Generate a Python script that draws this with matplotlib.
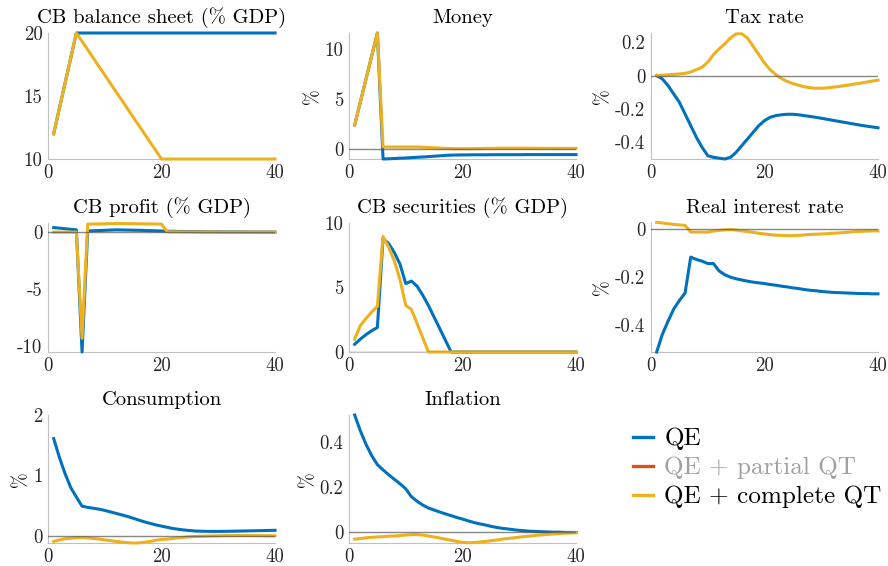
import matplotlib
matplotlib.use("Agg")
from matplotlib import pyplot as plt
from matplotlib.lines import Line2D
from matplotlib.ticker import FuncFormatter

plt.rcParams['font.family'] = ['cmr10', 'DejaVu Serif']
plt.rcParams['axes.unicode_minus'] = False

blue = '#0072BD'
orange = '#D95319'
yellow = '#EDB120'

quarters = list(range(1, 41))

# CB balance sheet (% GDP)
bs_qe = [12, 14, 16, 18, 20, 20, 20, 20, 20, 20,
         20, 20, 20, 20, 20, 20, 20, 20, 20, 20,
         20, 20, 20, 20, 20, 20, 20, 20, 20, 20,
         20, 20, 20, 20, 20, 20, 20, 20, 20, 20]
bs_qt = [12, 14, 16, 18, 20, 19.33, 18.67, 18, 17.33, 16.67,
         16, 15.33, 14.67, 14, 13.33, 12.67, 12, 11.33, 10.67, 10,
         10, 10, 10, 10, 10, 10, 10, 10, 10, 10,
         10, 10, 10, 10, 10, 10, 10, 10, 10, 10]

# Money
money_qe = [2.4, 4.7, 7.0, 9.3, 11.6, -1.0, -0.98, -0.95, -0.92, -0.9,
            -0.86, -0.83, -0.8, -0.76, -0.72, -0.68, -0.64, -0.61, -0.6, -0.59,
            -0.59, -0.58, -0.58, -0.58, -0.57, -0.57, -0.57, -0.57, -0.57, -0.57,
            -0.56, -0.56, -0.56, -0.56, -0.56, -0.56, -0.56, -0.56, -0.56, -0.56]
money_qt = [2.4, 4.7, 7.0, 9.3, 11.6, 0.2, 0.2, 0.2, 0.2, 0.2,
            0.2, 0.2, 0.18, 0.15, 0.12, 0.09, 0.06, 0.04, 0.03, 0.03,
            0.03, 0.04, 0.05, 0.06, 0.07, 0.07, 0.08, 0.08, 0.08, 0.08,
            0.08, 0.08, 0.07, 0.07, 0.07, 0.06, 0.06, 0.06, 0.06, 0.06]

# Tax rate
tax_qe = [0, -0.02, -0.06, -0.11, -0.16, -0.23, -0.30, -0.37, -0.43, -0.48,
          -0.49, -0.495, -0.50, -0.49, -0.46, -0.42, -0.38, -0.34, -0.30, -0.27,
          -0.25, -0.24, -0.235, -0.232, -0.232, -0.235, -0.24, -0.245, -0.25, -0.256,
          -0.262, -0.268, -0.274, -0.28, -0.286, -0.292, -0.298, -0.303, -0.308, -0.313]
tax_qt = [0, 0.002, 0.004, 0.007, 0.01, 0.013, 0.022, 0.035, 0.05, 0.08,
          0.125, 0.16, 0.19, 0.225, 0.25, 0.25, 0.225, 0.175, 0.125, 0.075,
          0.035, 0.005, -0.018, -0.035, -0.048, -0.058, -0.067, -0.073, -0.076, -0.076,
          -0.074, -0.07, -0.066, -0.061, -0.056, -0.05, -0.045, -0.039, -0.033, -0.028]

# CB profit (% GDP)
profit_qe = [0.4, 0.35, 0.3, 0.25, 0.2, -10.5, 0.1, 0.12, 0.14, 0.16,
             0.18, 0.2, 0.19, 0.18, 0.17, 0.16, 0.15, 0.13, 0.12, 0.1,
             0.08, 0.07, 0.06, 0.05, 0.05, 0.04, 0.04, 0.03, 0.03, 0.03,
             0.02, 0.02, 0.02, 0.02, 0.01, 0.01, 0.01, 0.01, 0.01, 0.0]
profit_qt = [0, 0, 0, 0, 0, -9.3, 0.7, 0.71, 0.72, 0.73,
             0.74, 0.75, 0.75, 0.74, 0.74, 0.73, 0.72, 0.72, 0.71, 0.7,
             0.03, 0.02, 0.02, 0.01, 0.01, 0.01, 0.01, 0.01, 0.01, 0.0,
             0, 0, 0, 0, 0, 0, 0, 0, 0, 0]

# CB securities (% GDP)
sec_qe = [0.6, 1.0, 1.35, 1.65, 1.9, 8.8, 8.4, 7.7, 6.8, 5.3,
          5.5, 5.1, 4.4, 3.6, 2.7, 1.8, 0.9, 0, 0, 0,
          0, 0, 0, 0, 0, 0, 0, 0, 0, 0,
          0, 0, 0, 0, 0, 0, 0, 0, 0, 0]
sec_qt = [1.0, 2.05, 2.6, 3.1, 3.55, 8.95, 8.1, 7.05, 5.6, 3.6,
          3.3, 2.2, 1.1, 0, 0, 0, 0, 0, 0, 0,
          0, 0, 0, 0, 0, 0, 0, 0, 0, 0,
          0, 0, 0, 0, 0, 0, 0, 0, 0, 0]

# Real interest rate
rate_qe = [-0.514, -0.44, -0.385, -0.334, -0.298, -0.267, -0.116, -0.126, -0.133, -0.143,
           -0.143, -0.174, -0.19, -0.2, -0.207, -0.212, -0.217, -0.221, -0.224, -0.227,
           -0.231, -0.234, -0.238, -0.241, -0.245, -0.248, -0.252, -0.255, -0.257, -0.26,
           -0.262, -0.264, -0.265, -0.266, -0.267, -0.268, -0.269, -0.269, -0.27, -0.27]
rate_qt = [0.03, 0.027, 0.024, 0.021, 0.019, 0.017, -0.011, -0.011, -0.011, -0.011,
           -0.007, -0.004, -0.002, -0.001, -0.003, -0.006, -0.009, -0.012, -0.016, -0.019,
           -0.022, -0.024, -0.025, -0.026, -0.026, -0.025, -0.023, -0.021, -0.02, -0.019,
           -0.018, -0.016, -0.015, -0.013, -0.011, -0.009, -0.008, -0.007, -0.006, -0.006]

# Consumption
cons_qe = [1.61, 1.3, 1.03, 0.8, 0.64, 0.49, 0.47, 0.455, 0.44, 0.42,
           0.395, 0.37, 0.345, 0.32, 0.29, 0.26, 0.23, 0.205, 0.18, 0.16,
           0.14, 0.12, 0.107, 0.095, 0.086, 0.078, 0.075, 0.073, 0.072, 0.072,
           0.073, 0.074, 0.076, 0.078, 0.08, 0.082, 0.084, 0.086, 0.088, 0.09]
cons_qt = [-0.094, -0.07, -0.05, -0.04, -0.032, -0.028, -0.035, -0.045, -0.055, -0.068,
           -0.081, -0.094, -0.105, -0.114, -0.12, -0.118, -0.108, -0.094, -0.075, -0.062,
           -0.055, -0.045, -0.035, -0.025, -0.017, -0.012, -0.008, -0.004, -0.002, 0.0,
           0.002, 0.003, 0.004, 0.005, 0.005, 0.004, 0.003, 0.002, 0.001, 0.0]

# Inflation
infl_qe = [0.52, 0.45, 0.39, 0.34, 0.30, 0.277, 0.255, 0.235, 0.215, 0.193,
           0.158, 0.138, 0.121, 0.108, 0.099, 0.09, 0.082, 0.074, 0.066, 0.059,
           0.051, 0.044, 0.038, 0.033, 0.027, 0.022, 0.018, 0.015, 0.012, 0.009,
           0.007, 0.005, 0.004, 0.003, 0.002, 0.001, 0.001, 0.0, 0.0, 0.0]
infl_qt = [-0.03, -0.027, -0.024, -0.022, -0.02, -0.019, -0.017, -0.016, -0.014, -0.012,
           -0.01, -0.01, -0.012, -0.016, -0.02, -0.025, -0.03, -0.035, -0.04, -0.044,
           -0.046, -0.045, -0.043, -0.04, -0.037, -0.034, -0.03, -0.027, -0.024, -0.021,
           -0.018, -0.016, -0.013, -0.011, -0.009, -0.007, -0.005, -0.004, -0.003, -0.002]

titles = ['CB balance sheet (% GDP)', 'Money', 'Tax rate',
          'CB profit (% GDP)', 'CB securities (% GDP)', 'Real interest rate',
          'Consumption', 'Inflation']
series = [(bs_qe, bs_qt), (money_qe, money_qt), (tax_qe, tax_qt),
          (profit_qe, profit_qt), (sec_qe, sec_qt), (rate_qe, rate_qt),
          (cons_qe, cons_qt), (infl_qe, infl_qt)]
yticks = [[10, 15, 20], [0, 5, 10], [-0.4, -0.2, 0, 0.2],
          [-10, -5, 0], [0, 5, 10], [-0.4, -0.2, 0],
          [0, 1, 2], [0, 0.2, 0.4]]
ylims = [(10, 20), (-1.0, 11.6), (-0.5, 0.255),
         (-10.5, 0.8), (0, 10), (-0.514, 0.027),
         (-0.12, 2.0), (-0.047, 0.52)]
pct_label = [False, True, True, False, False, True, True, True]

fig = plt.figure(figsize=(8.88, 5.66), dpi=100)
W, H = 888.0, 566.0
lefts = [48, 349, 651]
tops = [33, 223, 415]
bottoms = [159, 352, 543]
width = 227

fmt = FuncFormatter(lambda v, p: '%g' % v)

for i, title in enumerate(titles):
    r, c = divmod(i, 3)
    ax = fig.add_axes([lefts[c] / W, 1 - bottoms[r] / H, width / W, (bottoms[r] - tops[r]) / H])
    qe, qt = series[i]
    ax.plot(quarters, qe, color=blue, lw=2.2, clip_on=False, zorder=3)
    ax.plot(quarters, qt, color=yellow, lw=2.2, clip_on=False, zorder=4)
    if ylims[i][0] <= 0:
        ax.axhline(0, color='#555555', lw=1.0, alpha=0.7, zorder=5)
    ax.set_xlim(0, 40)
    ax.set_ylim(*ylims[i])
    ax.set_xticks([0, 20, 40])
    ax.set_yticks(yticks[i])
    ax.yaxis.set_major_formatter(fmt)
    ax.tick_params(length=0, labelsize=13.5, colors='#262626', pad=4)
    for s in ['top', 'right']:
        ax.spines[s].set_visible(False)
    for s in ['left', 'bottom']:
        ax.spines[s].set_color('#c0c0c0')
        ax.spines[s].set_linewidth(0.8)
    ax.set_title(title, fontsize=14.8, pad=7)
    if pct_label[i]:
        ax.set_ylabel('%', fontsize=13.5, labelpad=2)

handles = [Line2D([], [], color=blue, lw=2.4),
           Line2D([], [], color=orange, lw=2.4),
           Line2D([], [], color=yellow, lw=2.4)]
leg = fig.legend(handles, ['QE', 'QE + partial QT', 'QE + complete QT'],
                 loc='upper left', bbox_to_anchor=(610 / W, 1 - 405 / H),
                 frameon=False, fontsize=18.2, handlelength=0.8,
                 handletextpad=0.45, labelspacing=0.25)
for txt, col in zip(leg.get_texts(), ['black', '#a0a0a0', 'black']):
    txt.set_color(col)

plt.savefig('out.png', dpi=100)
